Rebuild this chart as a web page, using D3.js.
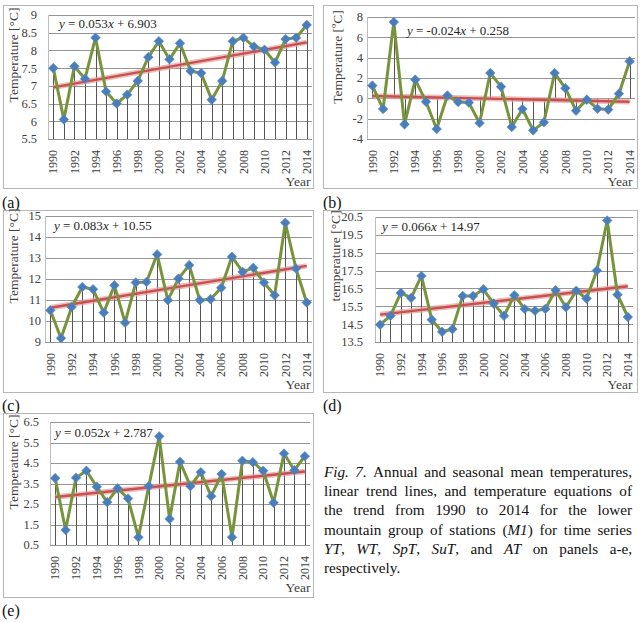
<!DOCTYPE html>
<html>
<head>
<meta charset="utf-8">
<script src="https://cdn.jsdelivr.net/npm/d3@7"></script>
<style>
  html, body { margin: 0; padding: 0; background: #fff; }
  svg { display: block; }
  svg text { font-family: "Liberation Serif", "Times New Roman", "DejaVu Serif", serif; fill: #262626; }
</style>
</head>
<body>
<svg id="chart" width="642" height="622" font-family="Liberation Serif, Times New Roman, serif"></svg>
<script>
// ---------------- DATA ----------------
const years = [1990, 1991, 1992, 1993, 1994, 1995, 1996, 1997, 1998, 1999, 2000, 2001, 2002,
               2003, 2004, 2005, 2006, 2007, 2008, 2009, 2010, 2011, 2012, 2013, 2014];
const yearTickLabels = ["1990", "1992", "1994", "1996", "1998", "2000", "2002",
                        "2004", "2006", "2008", "2010", "2012", "2014"];

const valuesYT  = [7.50, 6.05, 7.55, 7.20, 8.36, 6.84, 6.50, 6.75, 7.14, 7.81, 8.26, 7.75, 8.20,
                   7.42, 7.36, 6.61, 7.14, 8.26, 8.36, 8.11, 8.02, 7.66, 8.32, 8.36, 8.72];
const valuesWT  = [1.25, -1.05, 7.50, -2.56, 1.84, -0.33, -3.02, 0.28, -0.35, -0.42, -2.43, 2.49, 1.15,
                   -2.82, -1.05, -3.15, -2.36, 2.49, 1.00, -1.21, -0.13, -1.02, -1.11, 0.46, 3.64];
const valuesSpT = [10.51, 9.18, 10.67, 11.62, 11.51, 10.40, 11.70, 9.92, 11.83, 11.86, 13.17, 10.99, 12.02,
                   12.66, 10.99, 11.04, 11.58, 13.06, 12.34, 12.53, 11.83, 11.23, 14.68, 12.50, 10.88];
const valuesSuT = [14.47, 14.97, 16.25, 15.97, 17.20, 14.75, 14.07, 14.22, 16.08, 16.08, 16.45, 15.65, 14.97,
                   16.12, 15.35, 15.25, 15.35, 16.40, 15.45, 16.37, 15.93, 17.50, 20.30, 16.15, 14.90];
const valuesAT  = [3.76, 1.23, 3.78, 4.12, 3.34, 2.59, 3.26, 2.77, 0.88, 3.37, 5.80, 1.77, 4.56,
                   3.37, 4.05, 2.88, 3.96, 0.88, 4.61, 4.54, 4.12, 2.56, 4.96, 4.15, 4.83];

const trendSlopes     = [0.053, -0.024, 0.083, 0.066, 0.052];
const trendIntercepts = [6.903, 0.258, 10.55, 14.97, 2.787];

const ticksYT  = [5.5, 6, 6.5, 7, 7.5, 8, 8.5, 9];
const ticksWT  = [-4, -2, 0, 2, 4, 6, 8];
const ticksSpT = [9, 10, 11, 12, 13, 14, 15];
const ticksSuT = [13.5, 14.5, 15.5, 16.5, 17.5, 18.5, 19.5, 20.5];
const ticksAT  = [0.5, 1.5, 2.5, 3.5, 4.5, 5.5, 6.5];

const panelLetters = ["(a)", "(b)", "(c)", "(d)", "(e)"];
const yTitles = ["Temperature [°C]", "Temperature [ºC]", "Temperature [°C]", "temperature [°C]", "Temperature [°C]"];

// ---------------- LAYOUT ----------------
const FONT = '"Liberation Serif", "Times New Roman", serif';
const panels = [
  { values: valuesYT,  ticks: ticksYT,  box: [3, 5, 313, 188],   plot: { l: 48,  r: 312, t: 15,  b: 139 }, base: "bottom",
    tickGap: 11, title: [17.5, 55], eq: [59, 28], yearLbl: [298, 186], letter: [2, 208] },
  { values: valuesWT,  ticks: ticksWT,  box: [323, 5, 637, 188], plot: { l: 367, r: 635, t: 17,  b: 139 }, base: "zero",
    tickGap: 4,  title: [341.5, 57], eq: [407, 35], yearLbl: [620, 186], letter: [323, 208] },
  { values: valuesSpT, ticks: ticksSpT, box: [3, 210, 313, 392], plot: { l: 45,  r: 312, t: 216, b: 342 }, base: "bottom",
    tickGap: 4,  title: [17.5, 256], eq: [54, 230], yearLbl: [298, 389], letter: [2, 411] },
  { values: valuesSuT, ticks: ticksSuT, box: [323, 210, 637, 392], plot: { l: 375, r: 633, t: 217, b: 342 }, base: "bottom",
    tickGap: 12, title: [339.5, 256], eq: [382, 231], yearLbl: [620, 389], letter: [323, 411] },
  { values: valuesAT,  ticks: ticksAT,  box: [3, 413, 313, 597], plot: { l: 50,  r: 310, t: 422, b: 545 }, base: "bottom",
    tickGap: 11, title: [17.5, 462], eq: [55, 437], yearLbl: [298, 592], letter: [2, 616] }
];

const svg = d3.select("#chart");

panels.forEach((p, k) => {
  const g = svg.append("g");
  const x = d3.scalePoint().domain(years).range([p.plot.l, p.plot.r]).padding(0.5);
  const y = d3.scaleLinear().domain([p.ticks[0], p.ticks[p.ticks.length - 1]]).range([p.plot.b, p.plot.t]);

  // frame
  g.append("rect")
    .attr("x", p.box[0] + 0.5).attr("y", p.box[1] + 0.5)
    .attr("width", p.box[2] - p.box[0]).attr("height", p.box[3] - p.box[1])
    .attr("fill", "none").attr("stroke", "#b5b5b5").attr("stroke-width", 1);

  // horizontal gridlines
  g.selectAll("line.grid").data(p.ticks).enter().append("line")
    .attr("x1", p.plot.l).attr("x2", p.plot.r)
    .attr("y1", d => Math.round(y(d)) + 0.5).attr("y2", d => Math.round(y(d)) + 0.5)
    .attr("stroke", "#959595").attr("stroke-width", 1);

  // y axis line
  g.append("line")
    .attr("x1", p.plot.l + 0.5).attr("x2", p.plot.l + 0.5)
    .attr("y1", p.plot.t).attr("y2", p.plot.b)
    .attr("stroke", "#bdbdbd");

  // y tick labels
  g.selectAll("text.ytick").data(p.ticks).enter().append("text")
    .attr("x", p.plot.l - p.tickGap).attr("y", d => y(d)).attr("dy", "0.35em")
    .attr("text-anchor", "end").attr("font-size", 12.5)
    .style("font-family", FONT).style("fill", "#404040")
    .text(d => String(d));

  // y title
  g.append("text")
    .attr("transform", `translate(${p.title[0]},${p.title[1]}) rotate(-90)`)
    .attr("text-anchor", "middle").attr("font-size", 13.5)
    .style("font-family", FONT).style("fill", "#404040")
    .text(yTitles[k]);

  // year tick labels
  g.selectAll("text.xtick").data(yearTickLabels).enter().append("text")
    .attr("transform", d => `translate(${x(+d)},${p.plot.b + 11}) rotate(-90)`)
    .attr("dy", "0.35em").attr("text-anchor", "end").attr("font-size", 12)
    .style("font-family", FONT).style("fill", "#404040")
    .text(d => d);

  // "Year"
  g.append("text").attr("x", p.yearLbl[0]).attr("y", p.yearLbl[1])
    .attr("text-anchor", "middle").attr("font-size", 13.5)
    .style("font-family", FONT).style("fill", "#404040").text("Year");

  // drop lines
  const baseY = p.base === "zero" ? y(0) : p.plot.b;
  g.selectAll("line.drop").data(p.values).enter().append("line")
    .attr("x1", (d, i) => Math.round(x(years[i])) + 0.5).attr("x2", (d, i) => Math.round(x(years[i])) + 0.5)
    .attr("y1", d => y(d)).attr("y2", baseY)
    .attr("stroke", "#555").attr("stroke-width", 1);

  // trend line
  const trendPts = [[years[0], 1], [years[years.length - 1], years.length]]
    .map(([yr, n]) => [x(yr), y(trendSlopes[k] * n + trendIntercepts[k])]);
  g.append("path").attr("d", d3.line()(trendPts))
    .attr("stroke", "#e3a3a1").attr("stroke-opacity", 0.7).attr("stroke-width", 5.5).attr("fill", "none");
  g.append("path").attr("d", d3.line()(trendPts))
    .attr("stroke", "#c9504d").attr("stroke-width", 2.4).attr("fill", "none");

  // series line
  const line = d3.line().x((d, i) => x(years[i])).y(d => y(d));
  g.append("path").datum(p.values).attr("d", line)
    .attr("fill", "none").attr("stroke", "#77933c").attr("stroke-width", 3)
    .attr("stroke-linejoin", "round");

  // markers (diamonds)
  const sym = d3.symbol().type(d3.symbolSquare).size(46);
  g.selectAll("path.mk").data(p.values).enter().append("path")
    .attr("d", sym)
    .attr("transform", (d, i) => `translate(${x(years[i])},${y(d)}) rotate(45)`)
    .attr("fill", "#4a7ebb").attr("stroke", "#5b8ccc").attr("stroke-width", 0.6);

  // equation
  const s = trendSlopes[k], c = trendIntercepts[k];
  const eq = g.append("text").attr("x", p.eq[0]).attr("y", p.eq[1]).attr("font-size", 13)
    .style("font-family", FONT).style("fill", "#262626");
  eq.append("tspan").attr("font-style", "italic").text("y");
  eq.append("tspan").text(" = " + String(s));
  eq.append("tspan").attr("font-style", "italic").text("x");
  eq.append("tspan").text(" + " + String(c));

  // panel letter
  svg.append("text").attr("x", p.letter[0]).attr("y", p.letter[1])
    .attr("font-size", 16).style("font-family", FONT).style("fill", "#111").text(panelLetters[k]);
});

// ---------------- CAPTION (justified) ----------------
const captionLines = [
  "*Fig.* *7.* Annual and seasonal mean temperatures,",
  "linear trend lines, and temperature equations of",
  "the trend from 1990 to 2014 for the lower",
  "mountain group of stations (*M1*) for time series",
  "*YT*, *WT*, *SpT*, *SuT*, and *AT* on panels a-e,",
  "respectively."
];
const capL = 324, capR = 632, capY0 = 477, capDY = 19.2;
captionLines.forEach((ln, li) => {
  const words = ln.split(" ");
  const nodes = words.map(w => {
    const t = svg.append("text").attr("font-size", 15.2).attr("y", capY0 + li * capDY)
      .style("font-family", FONT).style("fill", "#111");
    w.split("*").forEach((seg, si) => {
      if (seg.length) t.append("tspan").attr("font-style", si % 2 === 1 ? "italic" : "normal").text(seg);
    });
    return t;
  });
  const widths = nodes.map(n => n.node().getComputedTextLength());
  const total = d3.sum(widths);
  const last = li === captionLines.length - 1;
  const gap = last ? 3.8 : (capR - capL - total) / (words.length - 1);
  let cx = capL;
  nodes.forEach((n, i) => { n.attr("x", cx); cx += widths[i] + gap; });
});
</script>
</body>
</html>
